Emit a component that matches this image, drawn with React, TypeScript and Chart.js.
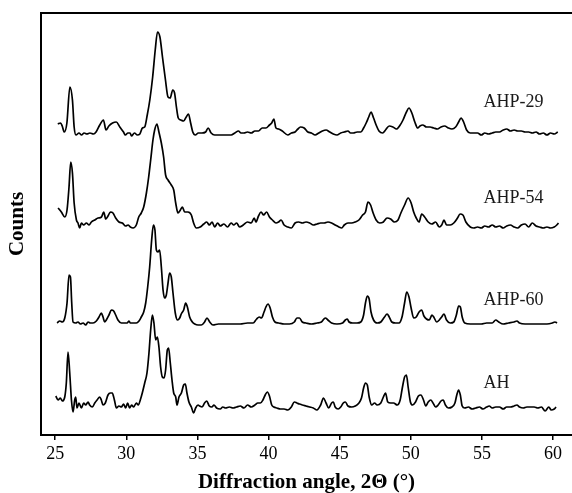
import React, { useEffect, useRef } from "react";
import { Chart, registerables } from "chart.js";

Chart.register(...registerables);

const FONT = "'Liberation Serif', 'Times New Roman', serif";

const xTicks = [25, 30, 35, 40, 45, 50, 55, 60];

const seriesNames = ["AHP-29", "AHP-54", "AHP-60", "AH"];

// [2θ (°), counts (stacked, arbitrary)]
const ahp29: [number, number][] = [
  [25.18,311],[25.38,312],[25.49,309],[25.64,303],[25.82,312],[26.03,348],[26.21,335],[26.33,308],[26.46,300],[26.67,302],[26.85,300],[27.03,302],[27.23,301],[27.44,302],[27.69,301],[27.87,303],[28.13,310],[28.39,315],[28.57,305],[28.77,309],[29.03,312],[29.29,313],[29.54,308],[29.80,303],[29.93,300],[30.11,302],[30.26,302],[30.36,299],[30.57,302],[30.77,300],[30.95,301],[31.13,307],[31.29,308],[31.47,320],[31.65,335],[31.85,358],[32.03,385],[32.19,403],[32.36,398],[32.54,378],[32.75,355],[32.93,338],[33.08,337],[33.26,345],[33.39,342],[33.52,328],[33.65,317],[33.83,315],[34.03,314],[34.21,318],[34.37,321],[34.52,312],[34.67,303],[34.85,300],[35.06,302],[35.32,302],[35.57,303],[35.75,307],[35.96,302],[36.21,300],[36.60,300],[36.98,300],[37.37,300],[37.63,302],[37.88,304],[38.06,302],[38.27,302],[38.52,303],[38.78,302],[39.04,304],[39.29,304],[39.55,307],[39.81,307],[40.06,310],[40.22,312],[40.37,316],[40.52,307],[40.70,306],[40.96,304],[41.35,300],[41.60,302],[41.86,303],[42.06,306],[42.24,308],[42.50,307],[42.76,303],[43.01,302],[43.27,300],[43.53,302],[43.78,304],[44.04,305],[44.30,303],[44.55,301],[44.81,300],[45.07,302],[45.32,303],[45.58,304],[45.76,302],[45.96,302],[46.22,303],[46.48,303],[46.68,307],[46.86,312],[47.04,318],[47.20,323],[47.38,317],[47.56,310],[47.76,304],[48.02,302],[48.22,305],[48.48,309],[48.74,308],[48.99,306],[49.25,310],[49.45,315],[49.69,323],[49.87,327],[50.07,322],[50.28,313],[50.48,307],[50.64,309],[50.84,310],[51.10,308],[51.35,308],[51.61,307],[51.87,306],[52.12,308],[52.38,309],[52.64,307],[52.89,306],[53.15,308],[53.36,313],[53.53,317],[53.71,313],[53.92,305],[54.18,302],[54.43,302],[54.69,302],[54.95,300],[55.20,302],[55.46,301],[55.72,302],[55.97,303],[56.23,303],[56.49,305],[56.74,306],[57.00,304],[57.26,305],[57.51,304],[57.77,304],[58.03,303],[58.28,303],[58.54,302],[58.80,303],[59.05,301],[59.31,302],[59.57,300],[59.82,302],[60.08,301],[60.33,303]
];

const ahp54: [number, number][] = [
  [25.20,227],[25.43,223],[25.67,218],[25.83,225],[25.97,248],[26.09,273],[26.21,262],[26.33,232],[26.49,215],[26.60,212],[26.72,207],[26.84,212],[27.00,210],[27.19,212],[27.38,210],[27.54,213],[27.78,215],[28.01,217],[28.25,218],[28.41,223],[28.55,216],[28.71,219],[28.88,223],[29.06,222],[29.25,217],[29.48,213],[29.72,212],[29.95,209],[30.12,210],[30.28,208],[30.47,207],[30.70,210],[30.87,218],[31.05,222],[31.22,228],[31.41,242],[31.57,258],[31.71,275],[31.87,295],[31.99,305],[32.15,311],[32.29,303],[32.46,292],[32.62,278],[32.76,260],[32.93,255],[33.16,250],[33.33,245],[33.47,232],[33.63,222],[33.80,225],[33.94,228],[34.10,223],[34.33,223],[34.57,220],[34.73,212],[34.92,207],[35.19,208],[35.44,211],[35.65,213],[35.83,210],[36.03,213],[36.21,208],[36.42,212],[36.60,209],[36.86,211],[37.11,208],[37.37,212],[37.55,210],[37.75,212],[37.96,208],[38.22,210],[38.52,213],[38.78,212],[38.99,217],[39.11,213],[39.29,219],[39.47,223],[39.65,220],[39.86,223],[40.06,218],[40.27,215],[40.52,212],[40.70,213],[40.88,215],[41.09,210],[41.35,208],[41.60,207],[41.86,212],[42.12,213],[42.37,212],[42.63,213],[42.89,212],[43.14,210],[43.40,211],[43.66,212],[43.91,212],[44.17,213],[44.43,212],[44.68,210],[44.94,208],[45.14,207],[45.32,210],[45.58,212],[45.84,212],[46.09,213],[46.35,215],[46.61,220],[46.81,223],[46.99,233],[47.17,230],[47.35,222],[47.56,215],[47.81,212],[48.07,213],[48.33,217],[48.58,216],[48.84,213],[49.10,215],[49.30,222],[49.56,230],[49.81,237],[50.02,232],[50.20,223],[50.38,217],[50.58,213],[50.76,221],[50.97,218],[51.22,213],[51.48,211],[51.74,213],[52.00,208],[52.17,210],[52.33,215],[52.51,210],[52.77,210],[53.02,212],[53.28,217],[53.46,221],[53.66,220],[53.87,213],[54.18,208],[54.43,207],[54.69,208],[54.95,207],[55.20,209],[55.46,208],[55.72,210],[55.97,208],[56.23,209],[56.49,207],[56.74,209],[57.00,210],[57.26,208],[57.51,207],[57.77,210],[58.03,211],[58.28,208],[58.54,212],[58.80,209],[59.05,208],[59.31,207],[59.57,208],[59.82,207],[60.08,208],[60.26,210],[60.38,212]
];

const ahp60: [number, number][] = [
  [25.13,112],[25.32,114],[25.50,113],[25.67,117],[25.83,132],[25.97,160],[26.07,158],[26.16,132],[26.25,113],[26.44,112],[26.60,113],[26.77,111],[26.96,112],[27.14,110],[27.31,113],[27.47,112],[27.66,112],[27.89,114],[28.08,118],[28.24,122],[28.36,118],[28.48,113],[28.59,115],[28.78,120],[28.95,125],[29.11,124],[29.25,120],[29.41,115],[29.65,112],[29.88,112],[30.05,112],[30.19,114],[30.28,112],[30.47,112],[30.70,112],[30.89,114],[31.05,118],[31.22,123],[31.36,132],[31.50,148],[31.64,168],[31.78,195],[31.90,210],[32.01,205],[32.11,185],[32.22,183],[32.34,185],[32.46,168],[32.58,145],[32.69,137],[32.81,140],[32.93,152],[33.04,162],[33.16,158],[33.28,142],[33.44,122],[33.60,115],[33.75,117],[33.86,121],[34.03,125],[34.17,132],[34.29,128],[34.45,118],[34.64,113],[34.81,111],[35.04,110],[35.27,110],[35.50,113],[35.67,117],[35.86,113],[36.09,110],[36.47,111],[36.98,111],[37.50,111],[38.01,111],[38.52,112],[38.91,112],[39.16,116],[39.34,118],[39.50,117],[39.68,123],[39.81,128],[39.96,131],[40.11,127],[40.27,118],[40.45,113],[40.70,112],[41.09,111],[41.47,111],[41.81,113],[41.99,117],[42.17,117],[42.37,113],[42.63,112],[43.01,111],[43.40,112],[43.71,113],[43.99,117],[44.17,115],[44.43,112],[44.81,111],[45.20,112],[45.40,115],[45.53,116],[45.66,113],[45.91,112],[46.22,112],[46.48,113],[46.68,120],[46.81,132],[46.94,139],[47.07,136],[47.20,123],[47.38,115],[47.63,112],[47.89,113],[48.15,118],[48.33,121],[48.48,118],[48.66,113],[48.92,112],[49.17,112],[49.38,118],[49.56,132],[49.71,143],[49.87,138],[50.02,127],[50.20,117],[50.38,118],[50.58,123],[50.76,125],[50.92,119],[51.10,116],[51.30,115],[51.48,120],[51.61,118],[51.82,113],[52.00,115],[52.17,118],[52.33,121],[52.51,115],[52.77,112],[53.02,113],[53.20,120],[53.36,129],[53.48,128],[53.61,118],[53.79,112],[54.18,111],[54.56,111],[54.95,111],[55.33,112],[55.72,112],[55.97,115],[56.18,113],[56.49,111],[56.87,112],[57.26,113],[57.46,114],[57.64,112],[58.03,111],[58.54,111],[59.05,111],[59.57,111],[59.95,112],[60.13,113],[60.28,112]
];

const ah: [number, number][] = [
  [25.04,39],[25.20,35],[25.36,37],[25.50,34],[25.67,38],[25.78,52],[25.90,83],[26.02,62],[26.14,35],[26.25,23],[26.37,35],[26.44,38],[26.53,27],[26.67,32],[26.84,27],[27.00,32],[27.14,30],[27.31,33],[27.42,30],[27.61,28],[27.78,32],[27.94,35],[28.13,38],[28.24,35],[28.36,30],[28.52,32],[28.71,40],[28.87,42],[29.01,42],[29.16,35],[29.30,27],[29.48,29],[29.65,28],[29.81,31],[29.95,27],[30.09,32],[30.23,27],[30.37,30],[30.51,28],[30.70,32],[30.84,30],[30.98,35],[31.12,42],[31.29,52],[31.45,62],[31.59,82],[31.71,105],[31.83,120],[31.94,112],[32.06,95],[32.18,98],[32.29,88],[32.41,68],[32.53,58],[32.65,57],[32.76,65],[32.88,85],[32.97,87],[33.09,72],[33.21,55],[33.33,42],[33.47,38],[33.56,30],[33.70,38],[33.87,42],[34.03,50],[34.15,51],[34.26,42],[34.40,33],[34.57,28],[34.73,22],[34.87,27],[35.04,30],[35.15,29],[35.32,28],[35.50,32],[35.65,34],[35.83,29],[36.01,28],[36.16,30],[36.34,27],[36.60,26],[36.78,28],[36.98,27],[37.24,28],[37.50,27],[37.75,28],[38.01,29],[38.27,27],[38.52,30],[38.78,28],[39.04,30],[39.24,32],[39.42,32],[39.60,35],[39.76,40],[39.91,43],[40.06,39],[40.22,30],[40.37,28],[40.58,27],[40.83,26],[41.09,26],[41.35,25],[41.60,28],[41.81,33],[41.99,32],[42.17,31],[42.37,30],[42.63,29],[42.89,28],[43.14,27],[43.40,25],[43.66,30],[43.86,37],[44.04,32],[44.22,27],[44.43,32],[44.55,33],[44.68,28],[44.89,26],[45.07,28],[45.25,32],[45.40,33],[45.58,29],[45.84,28],[46.09,29],[46.35,32],[46.53,37],[46.68,47],[46.81,52],[46.94,50],[47.07,38],[47.25,30],[47.45,32],[47.63,30],[47.89,32],[48.07,38],[48.22,42],[48.38,33],[48.58,32],[48.79,32],[49.04,30],[49.25,35],[49.40,47],[49.56,58],[49.69,60],[49.81,48],[49.97,33],[50.12,30],[50.33,33],[50.53,39],[50.71,40],[50.89,35],[51.05,29],[51.22,33],[51.40,35],[51.56,32],[51.74,28],[51.92,30],[52.12,34],[52.28,35],[52.43,30],[52.64,27],[52.89,28],[53.10,32],[53.23,40],[53.36,45],[53.48,40],[53.61,29],[53.79,27],[54.05,28],[54.30,26],[54.56,27],[54.82,28],[55.07,26],[55.33,28],[55.51,29],[55.72,27],[55.97,28],[56.23,28],[56.49,26],[56.74,28],[57.00,28],[57.26,29],[57.46,30],[57.64,28],[57.90,27],[58.16,28],[58.41,28],[58.67,28],[58.93,27],[59.18,28],[59.44,24],[59.70,28],[59.87,25],[60.08,26],[60.21,28]
];

// where each curve's name is written: [2θ, counts]
const labelAnchors: [number, number][] = [
  [55.1, 333],
  [55.1, 237],
  [55.1, 135],
  [55.1, 52],
];

const allSeries = [ahp29, ahp54, ahp60, ah];

const framePlugin = {
  id: "frameAndLabels",
  afterDraw(chart: any) {
    const { ctx, chartArea, scales } = chart;
    ctx.save();
    ctx.strokeStyle = "#000";
    ctx.lineWidth = 2;
    ctx.beginPath();
    ctx.moveTo(chartArea.left - 1, chartArea.top);
    ctx.lineTo(chartArea.right, chartArea.top);
    ctx.stroke();
    ctx.fillStyle = "#1a1a1a";
    ctx.font = `18px ${FONT}`;
    ctx.textAlign = "left";
    ctx.textBaseline = "middle";
    seriesNames.forEach((name, i) => {
      const [ax, ay] = labelAnchors[i];
      ctx.fillText(name, scales.x.getPixelForValue(ax), scales.y.getPixelForValue(ay));
    });
    ctx.restore();
  },
};

export default function App() {
  const ref = useRef<HTMLCanvasElement | null>(null);
  useEffect(() => {
    if (!ref.current) return;
    const chart = new Chart(ref.current, {
      type: "line",
      data: {
        datasets: allSeries.map((s, i) => ({
          label: seriesNames[i],
          data: s.map(([x, y]) => ({ x, y })),
          borderColor: "#000",
          borderWidth: 1.7,
          pointRadius: 0,
          fill: false,
          cubicInterpolationMode: "monotone" as const,
        })),
      },
      options: {
        responsive: false,
        animation: false,
        devicePixelRatio: 1,
        layout: { padding: { top: 13, left: 0, right: 0, bottom: 0 } },
        plugins: { legend: { display: false }, tooltip: { enabled: false } },
        scales: {
          x: {
            type: "linear",
            min: 24.0,
            max: 61.33,
            afterBuildTicks: (s: any) => {
              s.ticks = xTicks.map((v) => ({ value: v }));
            },
            afterFit: (s: any) => {
              s.height = 58;
            },
            grid: { drawOnChartArea: false, drawTicks: true, tickLength: 5, color: "#000", lineWidth: 1.5 },
            border: { display: true, color: "#000", width: 2 },
            ticks: { font: { family: FONT, size: 18 }, color: "#000", padding: 3, maxRotation: 0 },
            title: {
              display: true,
              text: "Diffraction angle, 2Θ (°)",
              color: "#000",
              font: { family: FONT, size: 21, weight: "bold", lineHeight: 1 },
              padding: { top: 0, bottom: 0 },
            },
          },
          y: {
            type: "linear",
            min: 0,
            max: 422,
            afterFit: (s: any) => {
              s.width = 41;
            },
            ticks: { display: false },
            grid: { drawOnChartArea: false, drawTicks: false },
            border: { display: true, color: "#000", width: 2 },
            title: {
              display: true,
              text: "Counts",
              color: "#000",
              font: { family: FONT, size: 21, weight: "bold", lineHeight: 1 },
              padding: { top: 7, bottom: 0 },
            },
          },
        },
      },
      plugins: [framePlugin],
    });
    return () => chart.destroy();
  }, []);
  return (
    <div style={{ position: "fixed", left: 0, top: 0, width: 572, height: 493, background: "#fff" }}>
      <canvas ref={ref} width={572} height={493} style={{ display: "block" }} />
    </div>
  );
}
